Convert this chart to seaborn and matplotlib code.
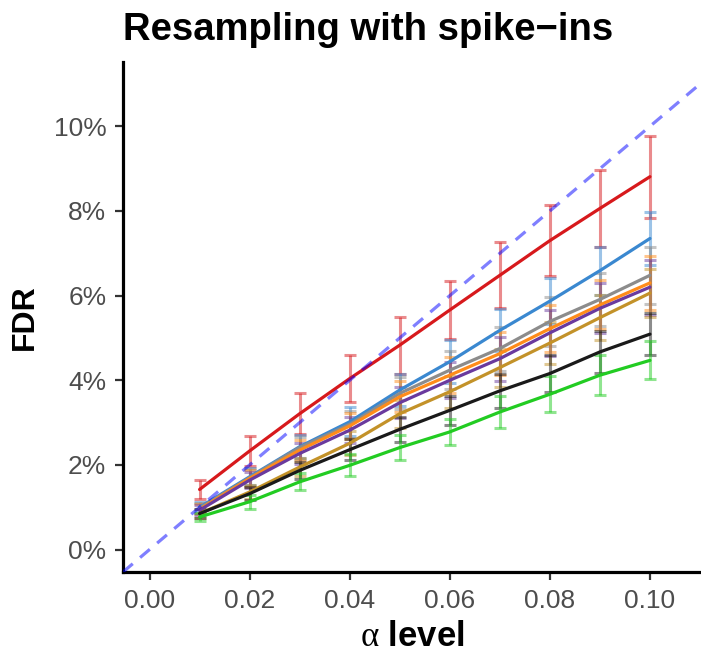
import numpy as np
import pandas as pd
import seaborn as sns
import matplotlib.pyplot as plt
from matplotlib.ticker import PercentFormatter

# alpha levels and FDR (%) per method
alpha = [0.01, 0.02, 0.03, 0.04, 0.05, 0.06, 0.07, 0.08, 0.09, 0.10]

red = [1.42, 2.33, 3.21, 4.04, 4.83, 5.66, 6.48, 7.30, 8.06, 8.81]
blue = [1.00, 1.72, 2.43, 3.02, 3.77, 4.44, 5.18, 5.87, 6.59, 7.35]
gray = [0.98, 1.70, 2.41, 2.96, 3.69, 4.24, 4.75, 5.39, 5.91, 6.48]
orange = [0.95, 1.68, 2.35, 2.92, 3.61, 4.12, 4.63, 5.22, 5.78, 6.30]
purple = [0.93, 1.64, 2.27, 2.82, 3.47, 4.00, 4.51, 5.12, 5.70, 6.20]
gold = [0.85, 1.36, 1.95, 2.51, 3.21, 3.73, 4.30, 4.88, 5.48, 6.06]
black = [0.85, 1.32, 1.87, 2.36, 2.84, 3.29, 3.75, 4.16, 4.67, 5.09]
green = [0.77, 1.13, 1.60, 1.99, 2.41, 2.78, 3.25, 3.67, 4.12, 4.47]

# half widths of the error bars (%)
red_err = [0.23, 0.35, 0.48, 0.55, 0.67, 0.69, 0.78, 0.84, 0.91, 0.97]
blue_err = [0.12, 0.20, 0.27, 0.34, 0.37, 0.50, 0.50, 0.55, 0.57, 0.63]
gray_err = [0.12, 0.20, 0.26, 0.32, 0.38, 0.45, 0.52, 0.57, 0.62, 0.67]
orange_err = [0.12, 0.19, 0.25, 0.31, 0.37, 0.43, 0.50, 0.55, 0.58, 0.64]
purple_err = [0.12, 0.19, 0.25, 0.31, 0.37, 0.43, 0.52, 0.55, 0.59, 0.65]
gold_err = [0.11, 0.16, 0.22, 0.28, 0.33, 0.38, 0.45, 0.49, 0.54, 0.56]
black_err = [0.10, 0.15, 0.20, 0.25, 0.30, 0.35, 0.40, 0.43, 0.49, 0.50]
green_err = [0.10, 0.16, 0.20, 0.26, 0.30, 0.30, 0.37, 0.42, 0.47, 0.45]

series = {
    'red': (red, red_err, '#D7191C'),
    'blue': (blue, blue_err, '#3A88D0'),
    'gray': (gray, gray_err, '#8C8C8C'),
    'orange': (orange, orange_err, '#FF8C1A'),
    'purple': (purple, purple_err, '#6A3A9E'),
    'gold': (gold, gold_err, '#C39229'),
    'black': (black, black_err, '#1A1A1A'),
    'green': (green, green_err, '#22CC22'),
}

rows = []
for name, (vals, errs, col) in series.items():
    for a, v, e in zip(alpha, vals, errs):
        rows.append({'alpha': a, 'fdr': v / 100, 'err': e / 100, 'method': name})
df = pd.DataFrame(rows)
palette = {k: v[2] for k, v in series.items()}

sns.set_theme(style='ticks')
plt.rcParams['font.family'] = ['Liberation Sans', 'DejaVu Sans']
plt.rcParams['mathtext.fontset'] = 'custom'
plt.rcParams['mathtext.rm'] = 'Liberation Serif'

fig = plt.figure(figsize=(7.01, 6.58), dpi=100)
ax = fig.add_axes([123 / 701, 86 / 658, 578 / 701, 510 / 658])

# error bars first, lines over them
for name in series:
    d = df[df['method'] == name]
    ax.errorbar(d['alpha'], d['fdr'], yerr=d['err'], fmt='none',
                ecolor=palette[name], alpha=0.5, elinewidth=2.2,
                capsize=4.3, capthick=2.2, zorder=2)

sns.lineplot(data=df, x='alpha', y='fdr', hue='method', palette=palette,
             linewidth=2.3, legend=False, errorbar=None, ax=ax, zorder=3)

ax.axline((0, 0), slope=1, color='#0000FF', alpha=0.5, lw=2.3,
          ls=(0, (4, 3)), zorder=4)

ax.set_xlim(-0.0053, 0.1102)
ax.set_ylim(-0.0053, 0.1152)
ax.set_xticks([0.00, 0.02, 0.04, 0.06, 0.08, 0.10])
ax.set_xticklabels(['0.00', '0.02', '0.04', '0.06', '0.08', '0.10'])
ax.set_yticks([0.0, 0.02, 0.04, 0.06, 0.08, 0.10])
ax.yaxis.set_major_formatter(PercentFormatter(xmax=1, decimals=0))

for s in ['top', 'right']:
    ax.spines[s].set_visible(False)
for s in ['left', 'bottom']:
    ax.spines[s].set_linewidth(2.3)
    ax.spines[s].set_color('black')
ax.tick_params(axis='both', length=6, width=1.6, color='#333333',
               labelsize=19, labelcolor='#4D4D4D', pad=6)

ax.set_xlabel(r'$\mathrm{\alpha}$ level', fontsize=25, fontweight='bold',
              color='black', labelpad=5)
ax.set_ylabel('FDR', fontsize=23, fontweight='bold', color='black', labelpad=10)
ax.set_title('Resampling with spike\u2212ins', fontsize=27.5, fontweight='bold',
             color='black', loc='left', pad=16, x=0.0)

fig.savefig('out.png', dpi=100)
